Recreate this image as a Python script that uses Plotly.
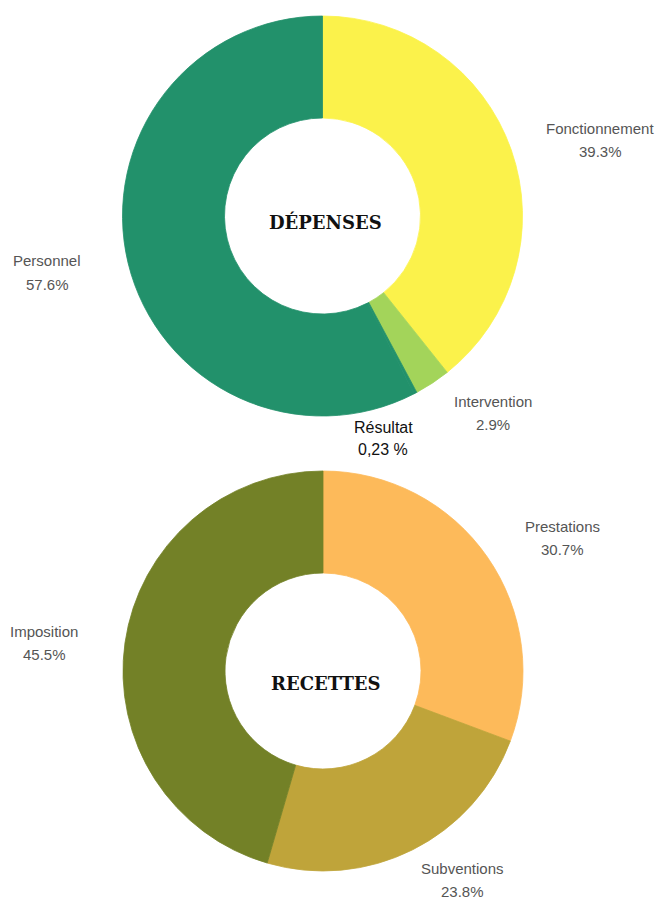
import plotly.graph_objects as go

dep_labels = ["Fonctionnement", "Intervention", "Résultat", "Personnel"]
dep_values = [39.3, 2.9, 0.23, 57.6]
dep_colors = ["#FBF24B", "#A3D45A", "#22916B", "#22916B"]

rec_labels = ["Prestations", "Subventions", "Imposition"]
rec_values = [30.7, 23.8, 45.5]
rec_colors = ["#FDBA5A", "#BFA43A", "#738127"]

W, H = 662, 899

def px_dom(x0, x1, y0, y1):
    return dict(x=[x0 / W, x1 / W], y=[1 - y1 / H, 1 - y0 / H])

fig = go.Figure()
fig.add_trace(go.Pie(
    labels=dep_labels, values=dep_values, hole=0.49, sort=False,
    direction="clockwise", rotation=0, textinfo="none", hoverinfo="label+percent",
    marker=dict(colors=dep_colors, line=dict(width=0.8, color=dep_colors)),
    domain=px_dom(122.5, 522.5, 16, 416), showlegend=False,
))
fig.add_trace(go.Pie(
    labels=rec_labels, values=rec_values, hole=0.49, sort=False,
    direction="clockwise", rotation=0, textinfo="none", hoverinfo="label+percent",
    marker=dict(colors=rec_colors, line=dict(width=0.8, color=rec_colors)),
    domain=px_dom(123, 523, 471, 871), showlegend=False,
))

def fmt(v):
    return f"{v:.1f}%"

gray = "#555555"
lab_font = dict(family="Liberation Sans, Arial, sans-serif", size=15, color=gray)

positions = {
    "Fonctionnement": (600, 129),
    "Intervention": (493, 401),
    "Personnel": (47, 261),
    "Prestations": (562, 526),
    "Subventions": (462, 868),
    "Imposition": (44, 631),
}

annotations = []

def add_text(x, y, text, font):
    annotations.append(dict(
        x=x / W, y=1 - y / H, xref="paper", yref="paper",
        text=text, showarrow=False, font=font,
        xanchor="center", yanchor="middle",
    ))

for labels, values in ((dep_labels, dep_values), (rec_labels, rec_values)):
    for lab, val in zip(labels, values):
        if lab not in positions:
            continue
        x, y = positions[lab]
        add_text(x, y, lab, lab_font)
        add_text(x, y + 23, fmt(val), lab_font)

# Résultat label (different style)
res_val = dep_values[dep_labels.index("Résultat")]
res_font = dict(family="Liberation Sans, Arial, sans-serif", size=16, color="#111111")
add_text(383, 427, "Résultat", res_font)
add_text(383, 449, f"{res_val:.2f}".replace(".", ",") + " %", res_font)

title_font = dict(family="'DejaVu Serif', serif", size=18, color="#111111")
add_text(325, 222, "<b>DÉPENSES</b>", title_font)
add_text(326, 683, "<b>RECETTES</b>", title_font)

fig.update_layout(
    width=W, height=H, margin=dict(l=0, r=0, t=0, b=0),
    paper_bgcolor="white", plot_bgcolor="white",
    annotations=annotations,
)

fig.write_html("out.html", config={"displayModeBar": False},
               post_script="document.body.style.margin='0';")
